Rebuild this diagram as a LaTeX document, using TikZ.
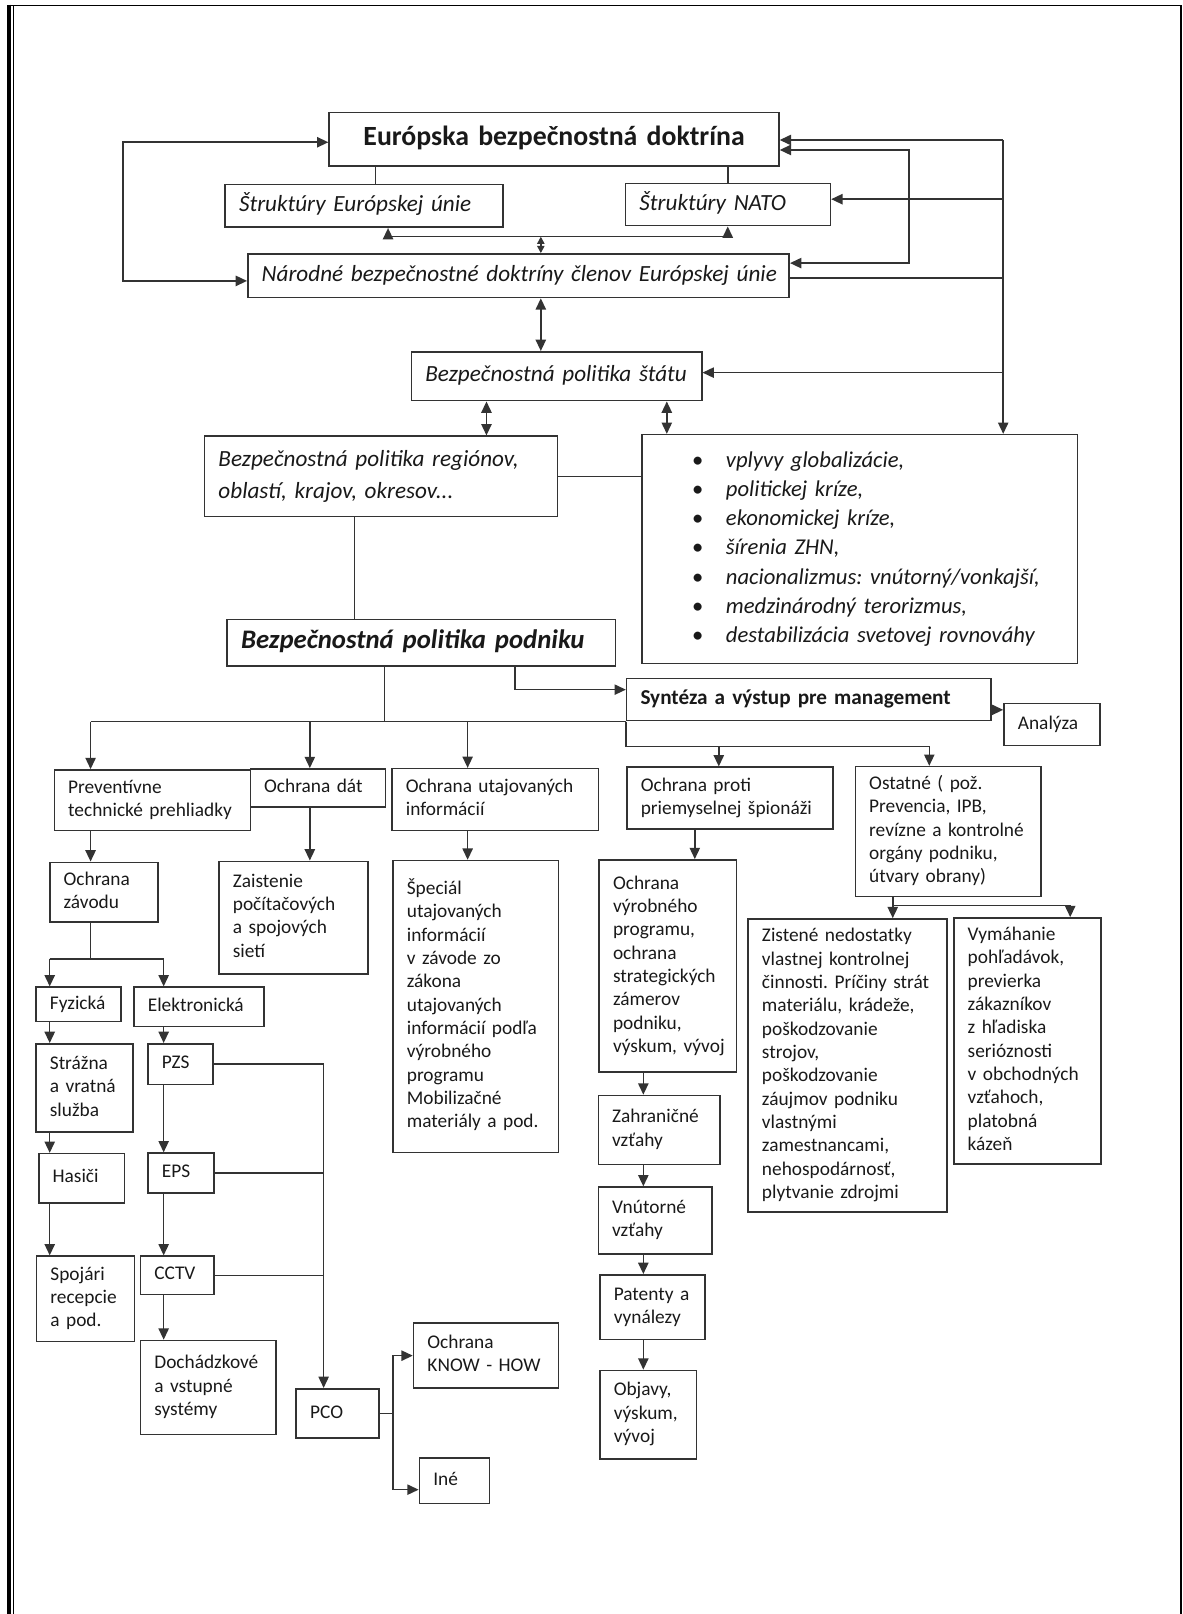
\documentclass[tikz,border=0pt]{standalone}
\usepackage{fontspec}
\setmainfont{Carlito}
\frenchspacing
\usetikzlibrary{arrows.meta}
\definecolor{ink}{HTML}{333333}
\tikzset{
  box/.style={draw=ink,line width=1.5pt,rectangle,anchor=north west,inner xsep=13.5pt,inner ysep=3pt,
    align=left,text=black!90,font=\fontsize{18.8}{22.66}\selectfont},
  kurz/.style={font=\fontsize{22.5}{28}\selectfont\itshape},
  lin/.style={draw=ink,line width=1.5pt},
  arr/.style={lin,-{Triangle[length=11pt,width=10pt]}},
  dbl/.style={lin,{Triangle[length=11pt,width=10pt]}-{Triangle[length=11pt,width=10pt]}},
  dbls/.style={lin,{Triangle[length=7pt,width=7pt]}-{Triangle[length=7pt,width=7pt]}}
}
% box from (x1,y1) to (x2,y2)
\newcommand{\bx}[7][]{%
  \pgfmathsetmacro{\bxw}{#5-#3}%
  \pgfmathsetmacro{\bxh}{#6-#4}%
  \pgfmathsetmacro{\bxt}{#5-#3-27}%
  \node[box,minimum width=\bxw pt,minimum height=\bxh pt,text width=\bxt pt,#1] (#2) at (#3,#4)
    {\begin{tabular}{@{}l@{}}#7\end{tabular}};}

\begin{document}
\begin{tikzpicture}[x=1pt,y=-1pt]
\useasboundingbox (0,0) rectangle (1149,1568);
% ram
\draw[line width=1.8pt] (8,5.3) -- (1147,5.3) -- (1147,1568);
\draw[line width=4.5pt] (8.6,4.5) -- (8.6,1568);
\draw[line width=0.9pt] (13.2,5.3) -- (13.2,1568);

% doktriny
\bx[align=center,font=\fontsize{27}{32}\selectfont\bfseries]{eud}{319}{108.5}{756}{160.3}{Európska bezpečnostná doktrína}
\bx[kurz]{eu}{218}{178.7}{488}{220}{Štruktúry Európskej únie}
\bx[kurz]{nato}{607}{177.4}{806}{218.5}{Štruktúry NATO}
\bx[kurz]{nar}{240}{245.9}{766}{288.3}{Národné bezpečnostné doktríny členov Európskej únie}
\bx[kurz]{sta}{399}{341}{681}{388.5}{Bezpečnostná politika štátu}
\bx[font=\fontsize{22.5}{31}\selectfont\itshape]{reg}{198}{423}{541}{501}{Bezpečnostná politika regiónov,\\oblastí, krajov, okresov...}
\bx[font=\fontsize{22}{28.3}\selectfont\itshape]{bul}{623}{421.5}{1046}{644}{%
\hspace*{35pt}\makebox[33pt][l]{\textbullet}vplyvy globalizácie,\\
\hspace*{35pt}\makebox[33pt][l]{\textbullet}politickej kríze,\\
\hspace*{35pt}\makebox[33pt][l]{\textbullet}ekonomickej kríze,\\
\hspace*{35pt}\makebox[33pt][l]{\textbullet}šírenia ZHN,\\
\hspace*{35pt}\makebox[33pt][l]{\textbullet}nacionalizmus: vnútorný/vonkajší,\\
\hspace*{35pt}\makebox[33pt][l]{\textbullet}medzinárodný terorizmus,\\
\hspace*{35pt}\makebox[33pt][l]{\textbullet}destabilizácia svetovej rovnováhy}
\bx[font=\fontsize{26}{30}\selectfont\bfseries\itshape]{pod}{220}{601}{597}{646}{Bezpečnostná politika podniku}
\bx[font=\fontsize{20.6}{25}\selectfont\bfseries]{syn}{608}{658.5}{962}{699}{Syntéza a výstup pre management}
\bx{ana}{974.6}{682.5}{1068}{723.6}{Analýza}

% oblasti ochrany
\bx{pre}{52}{747.2}{242.4}{806}{Preventívne\\technické prehliadky}
\bx{dat}{242.4}{746.2}{373.6}{783.5}{Ochrana dát}
\bx{uta}{380}{746}{580.7}{806}{Ochrana utajovaných\\informácií}
\bx{pro}{608.3}{744.6}{808.3}{804.5}{Ochrana proti\\priemyselnej špionáži}
\bx{ost}{830.2}{744}{1010.8}{870.3}{Ostatné ( pož.\\Prevencia, IPB,\\revízne a kontrolné\\orgány podniku,\\útvary obrany)}
\bx{zav}{47.6}{837}{153}{895.2}{Ochrana\\závodu}
\bx{zai}{212}{836}{357}{945.3}{Zaistenie\\počítačových\\a spojových\\sietí}
\bx{spe}{381}{835.3}{542}{1119}{Špeciál\\utajovaných\\informácií\\v závode zo\\zákona\\utajovaných\\informácií podľa\\výrobného\\programu\\Mobilizačné\\materiály a pod.}
\bx{vyr}{581.3}{834.6}{714.9}{1040.9}{Ochrana\\výrobného\\programu,\\ochrana\\strategických\\zámerov\\podniku,\\výskum, vývoj}
\bx{zis}{726}{892}{919.4}{1176.8}{Zistené nedostatky\\vlastnej kontrolnej\\činnosti. Príčiny strát\\materiálu, krádeže,\\poškodzovanie\\strojov,\\poškodzovanie\\záujmov podniku\\vlastnými\\zamestnancami,\\nehospodárnosť,\\plytvanie zdrojmi}
\bx{vym}{925.9}{891}{1068.7}{1129.9}{Vymáhanie\\pohľadávok,\\previerka\\zákazníkov\\z hľadiska\\serióznosti\\v obchodných\\vzťahoch,\\platobná\\kázeň}
\bx{fyz}{34.2}{958.3}{117}{991.7}{Fyzická}
\bx{ele}{129.4}{958.3}{255.8}{996.5}{Elektronická}
\bx{str}{34.2}{1013.3}{128.3}{1099.2}{Strážna\\a vratná\\služba}
\bx{pzs}{143}{1013.3}{206.3}{1052.8}{PZS}
\bx{has}{36.9}{1120}{120}{1167.7}{Hasiči}
\bx{eps}{143}{1119.5}{206.9}{1158}{EPS}
\bx{spo}{34.7}{1219.6}{130}{1302.4}{Spojári\\recepcie\\a pod.}
\bx{cct}{135.7}{1219.6}{206.9}{1256.8}{CCTV}
\bx{doc}{135.7}{1301.5}{267.6}{1392.8}{Dochádzkové\\a vstupné\\systémy}
\bx{pco}{287}{1348.4}{367.3}{1396.3}{PCO}
\bx{kno}{401}{1284.7}{542}{1347.8}{Ochrana\\KNOW - HOW}
\bx{ine}{406.7}{1415.8}{474.8}{1460}{Iné}
\bx{zah}{580.5}{1063.5}{698.6}{1130.5}{Zahraničné\\vzťahy}
\bx{vnu}{580.5}{1152.5}{691}{1217.3}{Vnútorné\\vzťahy}
\bx{pat}{582}{1237.7}{684}{1300.5}{Patenty a\\vynálezy}
\bx{obj}{582}{1330.6}{676}{1416.4}{Objavy,\\výskum,\\vývoj}

% body spojnic
\coordinate (lp1) at (119.4,138.2);
\coordinate (lp2) at (119.4,272.9);
\coordinate (ri1) at (883,145.7);
\coordinate (ri2) at (883,255.6);
\coordinate (ro1) at (974.6,136);
\coordinate (ro2) at (974.6,193.5);
\coordinate (ro3) at (974.6,270);
\coordinate (ro4) at (974.6,362);
\coordinate (br1) at (377,229.9);
\coordinate (br2) at (525.4,229.9);
\coordinate (br3) at (707,229.9);
\coordinate (st1) at (472.6,400);
\coordinate (st2) at (647.8,400);
\coordinate (rp) at (344.4,550);
\coordinate (ps1) at (500.5,670);
\coordinate (sa) at (962,689.6);
\coordinate (bu0) at (373.7,701);
\coordinate (bu1) at (88,701);
\coordinate (bu2) at (301,701);
\coordinate (bu3) at (454.3,701);
\coordinate (bu4) at (608,701);
\coordinate (sb1) at (608,725);
\coordinate (sb2) at (698.3,725);
\coordinate (sb3) at (902.8,725);
\coordinate (pv) at (675,820);
\coordinate (ob1) at (867.3,879.6);
\coordinate (ob2) at (1039.7,879.6);
\coordinate (zv0) at (88,931.4);
\coordinate (zv1) at (48.3,931.4);
\coordinate (zv2) at (159,931.4);
\coordinate (pc) at (314.4,1033);
\coordinate (pk1) at (381.6,1317);
\coordinate (pk2) at (381.6,1447.2);
\coordinate (rc) at (625,1050);

% spojnice hore
\draw[dbl] (lp1 -| eud.west) -- (lp1) -- (lp2) -- (lp2 -| nar.west);
\draw[dbl] (ri1 -| eud.east) -- (ri1) -- (ri2) -- (ri2 -| nar.east);
\draw[arr] (ro1) -- (ro1 -| eud.east);
\draw[arr] (ro1) -- (ro1 |- bul.north);
\draw[arr] (ro2) -- (ro2 -| nato.east);
\draw[lin] (ro3 -| nar.east) -- (ro3);
\draw[arr] (ro4) -- (ro4 -| sta.east);
\draw[lin] ([xshift=11pt]eu.north) -- ([xshift=11pt]eu.north |- eud.south);
\draw[lin] (nato.north) -- (nato.north |- eud.south);
\draw[dbl] (br1 |- eu.south) -- (br1) -- (br3) -- (br3 |- nato.south);
\draw[dbls] (br2) -- (br2 |- nar.north);
\draw[dbl] (br2 |- nar.south) -- (br2 |- sta.north);
\draw[dbl] (st1 |- sta.south) -- (st1 |- reg.north);
\draw[dbl] (st2 |- sta.south) -- (st2 |- bul.north);
\draw[lin] (reg.east) -- (reg.east -| bul.west);
\draw[lin] (rp |- reg.south) -- (rp |- pod.north);

% podnik
\draw[lin] (bu0 |- pod.south) -- (bu0);
\draw[lin] (bu1) -- (bu4);
\draw[arr] (ps1 |- pod.south) -- (ps1) -- (ps1 -| syn.west);
\draw[arr] (sa) -- (sa -| ana.west);
\draw[arr] (bu1) -- (bu1 |- pre.north);
\draw[arr] (bu2) -- (bu2 |- dat.north);
\draw[arr] (bu3) -- (bu3 |- uta.north);
\draw[lin] (bu4) -- (sb1) -- (sb3);
\draw[arr] (sb2) -- (sb2 |- pro.north);
\draw[arr] (sb3) -- (sb3 |- ost.north);

% vetvy
\draw[arr] (bu1 |- pre.south) -- (bu1 |- zav.north);
\draw[arr] (bu2 |- dat.south) -- (bu2 |- zai.north);
\draw[arr] (bu3 |- uta.south) -- (bu3 |- spe.north);
\draw[arr] (pv |- pro.south) -- (pv |- vyr.north);
\draw[lin] (ob1 |- ost.south) -- (ob1) -- (ob2);
\draw[arr] (ob1) -- (ob1 |- zis.north);
\draw[arr] (ob2) -- (ob2 |- vym.north);

% ochrana zavodu
\draw[lin] (zv0 |- zav.south) -- (zv0);
\draw[lin] (zv1) -- (zv2);
\draw[arr] (zv1) -- (zv1 |- fyz.north);
\draw[arr] (zv2) -- (zv2 |- ele.north);
\draw[arr] (zv1 |- fyz.south) -- (zv1 |- str.north);
\draw[arr] (zv1 |- str.south) -- (zv1 |- has.north);
\draw[arr] (zv1 |- has.south) -- (zv1 |- spo.north);
\draw[arr] (zv2 |- ele.south) -- (zv2 |- pzs.north);
\draw[arr] (zv2 |- pzs.south) -- (zv2 |- eps.north);
\draw[arr] (zv2 |- eps.south) -- (zv2 |- cct.north);
\draw[arr] (zv2 |- cct.south) -- (zv2 |- doc.north);
\draw[lin] (pzs.east) -- (pzs.east -| pc);
\draw[arr] (pzs.east -| pc) -- (pc |- pco.north);
\draw[lin] (eps.east) -- (eps.east -| pc);
\draw[lin] (cct.east) -- (cct.east -| pc);
\draw[lin] (pco.east) -- (pco.east -| pk1);
\draw[dbl] (pk1 -| kno.west) -- (pk1) -- (pk2) -- (pk2 -| ine.west);

% spionaz
\draw[arr] (rc |- vyr.south) -- (rc |- zah.north);
\draw[arr] (rc |- zah.south) -- (rc |- vnu.north);
\draw[arr] (rc |- vnu.south) -- (rc |- pat.north);
\draw[arr] (rc |- pat.south) -- (rc |- obj.north);
\end{tikzpicture}
\end{document}
